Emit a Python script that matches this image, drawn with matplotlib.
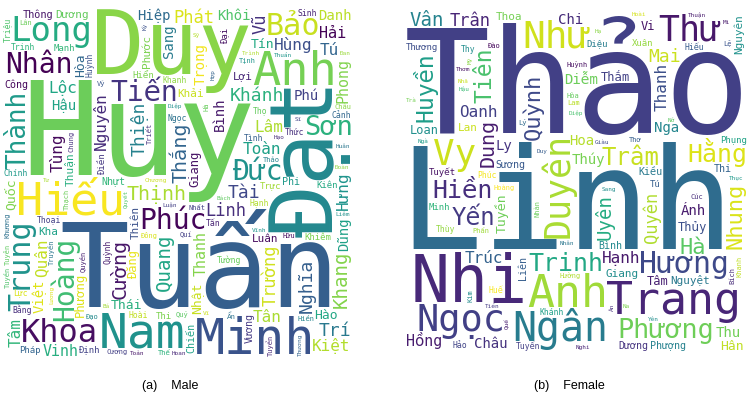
import numpy as np
import matplotlib
matplotlib.use("Agg")
import matplotlib.pyplot as plt
from matplotlib.textpath import TextPath
from matplotlib.font_manager import FontProperties
from matplotlib.transforms import Affine2D

male_names = ["Huy", "Tuấn", "Duy", "Đạt", "Minh", "Nam", "Anh", "Hiếu", "Long", "Khoa",
              "Bảo", "Trung", "Phúc", "Hoàng", "Nhân", "Tiến", "Đức", "Sơn", "Thành", "Thịnh",
              "Cường", "Thắng", "Khang", "Quang", "Khánh", "Thiện", "Trí", "Tài", "Nghĩa", "Linh",
              "Phát", "Vũ", "Trường", "Kiệt", "Toàn", "Hùng", "Lâm", "Tú", "Tùng", "Nguyên",
              "Tâm", "Tân", "Lộc", "Hưng", "Quân", "Hải", "Phong", "Thanh", "Vinh", "Khôi",
              "Phú", "Hiệp", "Dũng", "Việt", "Trọng", "Danh", "Hậu", "Sang", "Bình", "Phương",
              "Quốc", "Thái", "Hòa", "Giang", "Nhật", "Tín", "Hào", "Đăng", "Thuận", "Thông",
              "Dương", "Lợi", "Phước", "Khải", "Luân", "Thiên", "Kha", "Vương", "Công", "Phi",
              "Nhựt", "Chiến", "Thi", "Đại", "Pháp", "Khiêm", "Trực", "Tường", "Định", "Kiên",
              "Mạnh", "Hiển", "Triệu", "Điền", "Trinh", "Lực", "Huỳnh", "Sinh", "Thức", "Ngọc",
              "Chính", "Cảnh", "Quỳnh", "Tình", "Thọ", "Bằng", "Hoài", "Khanh", "Thoại", "Hạnh",
              "Tấn", "Thạch", "Khương", "Tịnh", "Vỹ", "Quý", "Quí", "Thế", "Đông", "Lân",
              "Cương", "Tuyên", "Ẩn", "Hữu", "Truyền", "Tuyền", "Chương", "Chung", "Triết", "Châu",
              "Quyền", "Tuyển", "Thảo", "Nhất", "Hà", "Đạo", "Thương", "Hiền", "Sỹ", "Kỳ",
              "Hạo", "Liêm", "Bá", "Luận", "Thuần", "Vĩnh", "Huân", "Tư", "Hoan", "Lương",
              "Sĩ", "Diệp", "Hợp", "Toản", "Trình", "Đoàn", "Đan", "Quyết", "Bách", "Vĩ"]
male_counts = [130, 116, 89, 88, 50, 48, 47, 45, 34, 32,
               30, 30, 28, 28, 28, 28, 28, 27, 26, 20,
               20, 20, 19, 19, 18, 18, 18, 18, 18, 17,
               17, 17, 17, 16, 16, 16, 16, 16, 16, 16,
               16, 16, 16, 16, 16, 15, 15, 15, 15, 14,
               14, 14, 14, 14, 14, 14, 14, 14, 14, 14,
               13, 13, 13, 13, 13, 13, 13, 12, 12, 12,
               12, 11, 11, 11, 11, 11, 11, 10, 10, 10,
               10, 10, 9, 9, 9, 9, 9, 9, 9, 9,
               9, 9, 9, 9, 8, 8, 8, 8, 8, 8,
               8, 8, 8, 8, 8, 8, 8, 8, 8, 8,
               8, 7, 7, 7, 7, 7, 7, 7, 7, 7,
               7, 7, 7, 7, 7, 7, 7, 7, 7, 7,
               7, 7, 7, 7, 7, 7, 7, 7, 6, 6,
               6, 6, 6, 6, 6, 6, 6, 6, 6, 6,
               6, 6, 6, 6, 6, 6, 6, 6, 6, 6]

female_names = ["Thảo", "Linh", "Nhi", "Anh", "Trang", "Ngân", "Như", "Ngọc", "Vy", "Thư",
                "Duyên", "Hương", "Phương", "Hiền", "Hằng", "Trinh", "Yến", "Trâm", "Tiên", "Huyền",
                "Quỳnh", "Nhung", "Hà", "Dung", "Vân", "Uyên", "Mai", "Trân", "Quyên", "Thanh",
                "Hạnh", "Oanh", "Trúc", "Hồng", "Thu", "Nga", "Châu", "Chi", "Hoa", "Thúy",
                "Diễm", "Ly", "Ánh", "Hân", "Tuyền", "Loan", "Thủy", "Thắm", "Tâm", "Vi",
                "Lan", "Nguyệt", "Giang", "Nguyên", "Thoa", "Dương", "Sương", "Bình", "Liên", "Phượng",
                "Kiều", "Thi", "Tuyết", "Thương", "Phụng", "Diệu", "Xuân", "Minh", "Tú", "Khánh",
                "Hiếu", "Huế", "Thy", "Phúc", "Tuyến", "Hảo", "Thùy", "Bích", "Hoàng", "Hòa",
                "Lệ", "Kim", "Phấn", "Đào", "Khanh", "Lam", "Cúc", "Huỳnh", "Thơ", "Hường",
                "Nhàn", "Lý", "Yên", "Giàu", "Thuận", "Nhã", "Tiền", "Nghi", "Hạ", "Ân",
                "Mi", "Nở", "Trà", "Duy", "Sang", "Hoài", "Na", "Hậu", "Mỹ", "Thơm",
                "Quế", "Diệp", "Thục", "Nhân", "Ngà"]
female_counts = [144, 140, 65, 45, 45, 40, 38, 37, 36, 35,
                 35, 30, 27, 25, 25, 25, 24, 24, 23, 23,
                 22, 22, 22, 20, 19, 19, 18, 17, 17, 16,
                 16, 16, 16, 15, 14, 14, 14, 14, 14, 14,
                 14, 14, 14, 13, 13, 12, 12, 12, 12, 12,
                 11, 11, 11, 11, 11, 10, 10, 10, 10, 10,
                 10, 10, 9, 9, 9, 9, 9, 9, 9, 8,
                 8, 8, 8, 8, 8, 8, 8, 7, 7, 7,
                 7, 7, 7, 7, 7, 7, 7, 7, 7, 7,
                 7, 7, 6, 6, 6, 6, 6, 6, 6, 6,
                 6, 6, 6, 6, 6, 6, 6, 6, 6, 6,
                 6, 6, 6, 6, 6]

captions = ["(a)    Male", "(b)    Female"]

FONT = ["DejaVu Sans Mono", "DejaVu Sans"]
fp = FontProperties(family=FONT)
W = H = 400
DPI = 100


def word_mask(word, size, vertical):
    tp = TextPath((0, 0), word, size=size, prop=fp)
    if vertical:
        tp = tp.transformed(Affine2D().rotate_deg(90))
    ext = tp.get_extents()
    x0, y0 = np.floor(ext.x0), np.floor(ext.y0)
    w = int(np.ceil(ext.x1) - x0)
    h = int(np.ceil(ext.y1) - y0)
    gx, gy = np.meshgrid(x0 + np.arange(w) + 0.5, y0 + np.arange(h) + 0.5)
    inside = tp.contains_points(np.column_stack([gx.ravel(), gy.ravel()])).reshape(h, w)
    m = np.zeros((h + 2, w + 2), bool)
    for dy in range(3):
        for dx in range(3):
            m[dy:dy + h, dx:dx + w] |= inside
    return m, x0, y0


def layout(names, counts, max_font, seed):
    rng = np.random.default_rng(seed)
    occ = np.zeros((H, W), bool)
    counts = np.asarray(counts, float)
    placed = []
    for word, c in zip(names, counts):
        size = max_font * c / counts.max()
        vertical = rng.random() > 0.9
        spot = None
        while size >= 4 and spot is None:
            ii = np.zeros((H + 1, W + 1), int)
            ii[1:, 1:] = occ.cumsum(0).cumsum(1)
            for vert in (vertical, not vertical):
                m, x0, y0 = word_mask(word, size, vert)
                h, w = m.shape
                if h > H or w > W:
                    continue
                s = ii[h:, w:] - ii[:-h, w:] - ii[h:, :-w] + ii[:-h, :-w]
                ys, xs = np.nonzero(s == 0)
                if len(ys):
                    k = rng.integers(len(ys))
                    i, j = ys[k], xs[k]
                    occ[i:i + h, j:j + w] |= m
                    spot = (j - x0 + 1, i - y0 + 1, size, vert)
                    break
            if spot is None:
                size -= 1 if size < 30 else 2
        if spot is not None:
            placed.append((word,) + spot + (plt.cm.viridis(rng.uniform()),))
    return placed


fig = plt.figure(figsize=(753 / DPI, 401 / DPI), dpi=DPI)
panels = [
    (male_names, male_counts, [3 / 753, 44 / 401, 349 / 753, 349 / 401], 149, 7, 170),
    (female_names, female_counts, [405 / 753, 49 / 401, 342 / 753, 342 / 401], 168, 12, 569),
]
for (names, counts, rect, max_font, seed, cx), cap in zip(panels, captions):
    ax = fig.add_axes(rect)
    ax.set_xlim(0, W)
    ax.set_ylim(0, H)
    ax.axis("off")
    scale = rect[2] * 753 / W
    for word, x, y, size, vert, color in layout(names, counts, max_font, seed):
        ax.text(x, y, word, fontsize=size * scale * 72 / DPI, family=FONT,
                rotation=90 if vert else 0, rotation_mode="anchor",
                ha="left", va="baseline", color=color, clip_on=True)
    fig.text(cx / 753, 1 - 386 / 401, cap, ha="center", va="center",
             fontsize=9, family="Liberation Sans")

fig.savefig("out.png", dpi=DPI, facecolor="white")
